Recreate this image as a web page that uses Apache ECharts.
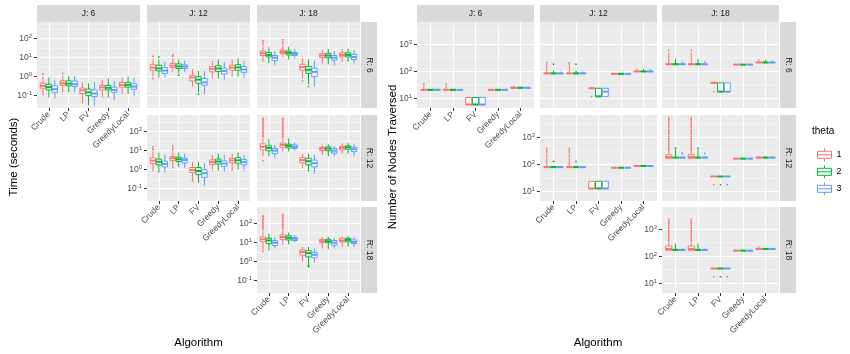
<!DOCTYPE html>
<html>
<head>
<meta charset="utf-8">
<script src="https://cdn.jsdelivr.net/npm/echarts@6/dist/echarts.min.js"></script>
<style>html,body{margin:0;padding:0;background:#fff}#chart{width:850px;height:354px}</style>
</head>
<body>
<div id="chart"></div>
<script>
const algorithms = ['Crude', 'LP', 'FV', 'Greedy', 'GreedyLocal'];
const thetas = ['1', '2', '3'];
const thetaColors = ['#F8766D', '#00BA38', '#619CFF'];
const levels = [6, 12, 18];
const timeTicks = [0.1, 1, 10, 100];
const nodeTicks = [10, 100, 1000];

// box stats [lo, q1, median, q3, hi] per algorithm, one block per theta
const timeR6J6 = [
  [[0.1, 0.25, 0.33, 0.45, 1.0], [0.15, 0.35, 0.45, 0.6, 1.2], [0.04, 0.13, 0.19, 0.25, 0.5], [0.08, 0.2, 0.27, 0.35, 0.7], [0.12, 0.28, 0.37, 0.5, 0.9]],
  [[0.08, 0.2, 0.28, 0.4, 0.9], [0.15, 0.33, 0.43, 0.6, 1.1], [0.03, 0.1, 0.15, 0.22, 0.45], [0.08, 0.2, 0.26, 0.35, 0.8], [0.12, 0.28, 0.37, 0.5, 1.0]],
  [[0.07, 0.15, 0.22, 0.33, 0.7], [0.15, 0.3, 0.4, 0.6, 1.1], [0.03, 0.09, 0.13, 0.2, 0.5], [0.06, 0.15, 0.2, 0.28, 0.6], [0.1, 0.22, 0.3, 0.42, 0.9]]
];
const timeR6J12 = [
  [[1.0, 2.2, 3, 4.3, 9], [1.8, 3, 3.8, 5, 9], [0.3, 0.6, 0.9, 1.2, 2.5], [0.8, 1.8, 2.6, 3.5, 7], [1.0, 2.2, 3.0, 4.0, 8]],
  [[0.9, 2, 2.7, 4, 8], [1.5, 2.7, 3.5, 4.7, 8], [0.15, 0.45, 0.7, 1.0, 2.0], [0.8, 1.9, 2.7, 3.8, 8], [1.0, 2.2, 3.1, 4.3, 9]],
  [[0.9, 1.5, 2.1, 3, 6], [1.8, 2.7, 3.4, 4.2, 7], [0.12, 0.35, 0.5, 0.8, 2.0], [0.7, 1.4, 2.0, 2.8, 6], [0.9, 1.7, 2.4, 3.4, 7]]
];
const timeR6J18 = [
  [[6, 13, 17, 22, 40], [10, 16, 20, 25, 45], [0.8, 2.2, 3.2, 4.5, 9], [5, 10, 13, 16, 25], [6, 11, 14, 18, 28]],
  [[5, 11, 14, 19, 35], [8, 14, 18, 22, 38], [0.4, 1.5, 2.3, 3.5, 8], [4.5, 10, 13, 17, 28], [6, 11, 14, 18, 30]],
  [[4, 7, 10, 13, 22], [9, 13, 16, 19, 28], [0.3, 1.0, 1.8, 2.8, 7], [4, 7.5, 10, 13, 22], [5, 8, 11, 15, 25]]
];
const timeR12J12 = [
  [[0.8, 2.1, 3, 4.2, 9], [1.5, 3, 4, 5, 9], [0.3, 0.7, 0.95, 1.3, 2.5], [0.9, 1.9, 2.5, 3.3, 6], [1.1, 2.3, 3.1, 4.0, 7]],
  [[0.7, 1.8, 2.6, 3.6, 8], [1.4, 2.7, 3.5, 4.5, 8], [0.2, 0.55, 0.85, 1.3, 2.5], [0.9, 2.0, 2.7, 3.6, 7], [1.0, 2.2, 3.1, 4.3, 8]],
  [[0.7, 1.4, 2.0, 2.8, 6], [1.2, 2.3, 3.2, 4, 7], [0.15, 0.4, 0.65, 1.0, 2.2], [0.8, 1.5, 2.1, 2.9, 6], [0.9, 1.8, 2.5, 3.4, 6]]
];
const timeR12J18 = [
  [[5, 11, 16, 23, 45], [9, 15, 20, 25, 40], [1.2, 2.3, 3.2, 4.3, 7], [6, 10, 13, 15, 20], [7, 11, 14, 17, 25]],
  [[5, 10, 14, 18, 40], [9, 14, 18, 22, 45], [0.8, 1.8, 2.8, 4.0, 7], [5, 10, 13, 16, 22], [7, 12, 15, 18, 25]],
  [[4, 7, 10, 13, 20], [10, 13, 16, 20, 28], [0.6, 1.4, 2.2, 3.2, 6], [5, 7.5, 10, 13, 18], [5, 9, 12, 15, 22]]
];
const timeR18J18 = [
  [[4, 11, 15, 20, 40], [8, 15, 20, 26, 45], [1.0, 2.2, 3.2, 4.2, 6], [5, 10, 12, 15, 20], [6, 11, 13, 17, 22]],
  [[4, 9, 13, 17, 30], [8, 14, 18, 23, 35], [0.7, 1.8, 2.8, 3.8, 6], [4.5, 10, 12, 15, 20], [6, 11, 14, 17, 22]],
  [[5, 7, 10, 13, 20], [10, 13, 16, 19, 25], [0.9, 1.6, 2.3, 3.1, 5], [5, 7.5, 10, 13, 18], [6, 9, 11, 14, 20]]
];

// outliers [algorithm index, theta, [values]]
const timeOutR6J6 = [[0, 1, [1.4]], [1, 1, [1.5]]];
const timeOutR6J12 = [[0, 1, [12, 0.8]], [0, 2, [11]], [1, 1, [12, 14]], [1, 2, [1.2]], [2, 2, [0.12]]];
const timeOutR6J18 = [[0, 1, [50, 65, 80]], [1, 1, [55, 70, 90]], [2, 2, [0.3]], [2, 1, [0.6]]];
const timeOutR12J12 = [[0, 1, [11, 13, 16]], [1, 1, [11, 14, 18, 1.3]], [2, 1, [0.25, 0.3]], [4, 1, [1.0]]];
const timeOutR12J18 = [
  [0, 1, [3, 55, 65, 75, 90, 105, 125, 150, 175, 210, 250, 300, 360, 430, 500]],
  [1, 1, [50, 60, 70, 85, 100, 120, 145, 170, 200, 240, 290, 350, 420, 500]]
];
const timeOutR18J18 = [
  [0, 1, [3.5, 50, 60, 72, 85, 100, 120, 140, 165, 195, 230, 260]],
  [1, 1, [55, 65, 78, 92, 110, 130, 155, 185, 220, 260, 300]],
  [2, 2, [0.55, 0.6, 0.65]]
];

const nodesR6J6 = [
  [[21, 21, 21, 21, 30], [21, 21, 21, 21, 30], [6, 6, 6, 11, 11], [21, 21, 21, 21, 21], [25, 25, 25, 25, 30]],
  [[21, 21, 21, 21, 21], [21, 21, 21, 21, 21], [6, 6, 6, 11, 11], [21, 21, 21, 21, 21], [25, 25, 25, 25, 27]],
  [[21, 21, 21, 21, 21], [21, 21, 21, 21, 21], [6, 6, 6, 11, 11], [21, 21, 21, 21, 21], [25, 25, 25, 25, 27]]
];
const nodesR6J12 = [
  [[85, 85, 85, 85, 190], [85, 85, 85, 85, 190], [24, 24, 24, 24, 24], [82, 82, 82, 82, 82], [100, 100, 100, 100, 130]],
  [[85, 85, 85, 85, 110], [85, 85, 85, 85, 110], [12, 12, 12, 24, 24], [82, 82, 82, 82, 82], [100, 100, 100, 100, 125]],
  [[85, 85, 85, 85, 100], [85, 85, 85, 85, 100], [12, 12, 18, 24, 24], [82, 82, 82, 82, 82], [100, 100, 100, 100, 125]]
];
const nodesR6J18 = [
  [[185, 185, 185, 185, 500], [185, 185, 185, 185, 500], [38, 38, 38, 38, 38], [180, 180, 180, 180, 180], [215, 215, 215, 215, 290]],
  [[185, 185, 185, 185, 290], [185, 185, 185, 185, 290], [18, 18, 18, 38, 38], [180, 180, 180, 180, 180], [215, 215, 215, 215, 270]],
  [[185, 185, 185, 185, 240], [185, 185, 185, 185, 240], [18, 18, 18, 38, 38], [180, 180, 180, 180, 180], [215, 215, 215, 215, 260]]
];
const nodesR12J12 = [
  [[80, 80, 80, 80, 250], [80, 80, 80, 80, 250], [13, 13, 13, 24, 24], [76, 76, 76, 76, 76], [88, 88, 88, 88, 100]],
  [[80, 80, 80, 80, 80], [80, 80, 80, 80, 80], [13, 13, 13, 24, 24], [76, 76, 76, 76, 76], [88, 88, 88, 88, 95]],
  [[80, 80, 80, 80, 80], [80, 80, 80, 80, 80], [13, 13, 13, 24, 24], [76, 76, 76, 76, 76], [88, 88, 88, 88, 95]]
];
const nodesR12J18 = [
  [[170, 170, 190, 230, 290], [170, 170, 190, 230, 290], [36, 36, 36, 36, 36], [165, 165, 165, 165, 165], [180, 180, 180, 180, 205]],
  [[180, 180, 180, 180, 360], [180, 180, 180, 180, 360], [36, 36, 36, 36, 36], [165, 165, 165, 165, 165], [180, 180, 180, 180, 200]],
  [[180, 180, 180, 180, 200], [180, 180, 180, 180, 200], [36, 36, 36, 36, 36], [165, 165, 165, 165, 165], [180, 180, 180, 180, 200]]
];
const nodesR18J18 = [
  [[170, 170, 190, 245, 330], [170, 170, 190, 245, 330], [36, 36, 36, 36, 36], [165, 165, 165, 165, 165], [190, 190, 190, 190, 230]],
  [[175, 175, 175, 175, 300], [175, 175, 175, 175, 300], [36, 36, 36, 36, 36], [165, 165, 165, 165, 165], [190, 190, 190, 190, 205]],
  [[175, 175, 175, 175, 200], [175, 175, 175, 175, 200], [36, 36, 36, 36, 36], [165, 165, 165, 165, 165], [190, 190, 190, 190, 200]]
];

const nodesOutR6J6 = [[0, 1, [34]], [1, 1, [34]]];
const nodesOutR6J12 = [[0, 1, [210]], [0, 2, [185]], [1, 1, [210]], [1, 2, [185]], [2, 1, [12]]];
const nodesOutR6J18 = [[0, 1, [620]], [1, 1, [620]], [2, 1, [18]]];
const nodesOutR12J12 = [[0, 1, [290, 340, 390]], [0, 2, [130]], [1, 1, [290, 340, 390]], [1, 2, [130]]];
const nodesOutR12J18 = [
  [0, 1, [320, 360, 410, 470, 540, 620, 720, 830, 950, 1100, 1300, 1500, 1750, 2000, 2400, 2800, 3300, 3900, 4600, 5400]],
  [1, 1, [320, 360, 410, 470, 540, 620, 720, 830, 950, 1100, 1300, 1500, 1750, 2000, 2400, 2800, 3300, 3900, 4600, 5400]],
  [0, 2, [400]], [1, 2, [400]], [0, 3, [260]], [1, 3, [260]],
  [2, 1, [18]], [2, 2, [18]], [2, 3, [18]]
];
const nodesOutR18J18 = [
  [0, 1, [370, 420, 480, 550, 630, 720, 830, 950, 1100, 1250, 1450, 1700, 2000, 2350]],
  [1, 1, [370, 420, 480, 550, 630, 720, 830, 950, 1100, 1250, 1450, 1700, 2000, 2350]],
  [2, 1, [18]], [2, 2, [18]], [2, 3, [18]]
];

const FONT = '"Liberation Sans", Arial, sans-serif';
const rowTop = [22, 115, 207];
const rowH = 86;

const sides = [
  {
    colX: [37, 147, 257], colW: 103, stripX: 361,
    range: [-1.65, 2.88], minor: [-1.5, -0.5, 0.5, 1.5, 2.5], ticks: timeTicks,
    yTitle: 'Time (seconds)', yTitleX: 14,
    panels: [
      {r: 0, j: 0, stats: timeR6J6, out: timeOutR6J6},
      {r: 0, j: 1, stats: timeR6J12, out: timeOutR6J12},
      {r: 0, j: 2, stats: timeR6J18, out: timeOutR6J18},
      {r: 1, j: 1, stats: timeR12J12, out: timeOutR12J12},
      {r: 1, j: 2, stats: timeR12J18, out: timeOutR12J18},
      {r: 2, j: 2, stats: timeR18J18, out: timeOutR18J18}
    ]
  },
  {
    colX: [417, 540, 662], colW: 117, stripX: 780,
    range: [0.65, 3.83], minor: [1.5, 2.5, 3.5], ticks: nodeTicks,
    yTitle: 'Number of Nodes Traversed', yTitleX: 393,
    panels: [
      {r: 0, j: 0, stats: nodesR6J6, out: nodesOutR6J6},
      {r: 0, j: 1, stats: nodesR6J12, out: nodesOutR6J12},
      {r: 0, j: 2, stats: nodesR6J18, out: nodesOutR6J18},
      {r: 1, j: 1, stats: nodesR12J12, out: nodesOutR12J12},
      {r: 1, j: 2, stats: nodesR12J18, out: nodesOutR12J18},
      {r: 2, j: 2, stats: nodesR18J18, out: nodesOutR18J18}
    ]
  }
];

function boxRender(color) {
  return function (params, api) {
    const x = api.value(0);
    const py = v => api.coord([x, v])[1];
    const lo = py(api.value(1)), q1 = py(api.value(2)), med = py(api.value(3)), q3 = py(api.value(4)), hi = py(api.value(5));
    const cx = api.coord([x, api.value(3)])[0];
    const x0 = api.coord([x - 0.135, api.value(3)])[0];
    const x1 = api.coord([x + 0.135, api.value(3)])[0];
    const line = (a, b, c, d, w) => ({type: 'line', shape: {x1: a, y1: b, x2: c, y2: d}, style: {stroke: color, lineWidth: w}});
    return {
      type: 'group',
      children: [
        line(cx, hi, cx, q3, 1),
        line(cx, q1, cx, lo, 1),
        {type: 'rect', shape: {x: x0, y: q3, width: x1 - x0, height: q1 - q3}, style: {fill: '#fff', stroke: color, lineWidth: 1}},
        line(x0, med, x1, med, 2)
      ]
    };
  };
}

function dotRender(color) {
  return function (params, api) {
    const c = api.coord([api.value(0), api.value(1)]);
    return {type: 'circle', shape: {cx: c[0], cy: c[1], r: 0.9}, style: {fill: color}};
  };
}

function minorRender(params, api) {
  const cs = params.coordSys;
  const y = api.coord([1, api.value(1)])[1];
  return {type: 'line', shape: {x1: cs.x, y1: y, x2: cs.x + cs.width, y2: y}, style: {stroke: '#fff', lineWidth: 0.5}};
}

function powLabel(v) {
  const e = Math.round(Math.log10(v));
  return '{b|10}{s|' + e + '}';
}

const grids = [], xAxes = [], yAxes = [], series = [], graphics = [];

sides.forEach(side => {
  side.panels.forEach(p => {
    const g = grids.length;
    const diag = p.r === p.j;
    grids.push({
      left: side.colX[p.j], top: rowTop[p.r], width: side.colW, height: rowH,
      show: true, backgroundColor: '#EBEBEB', borderWidth: 0, containLabel: false, outerBoundsMode: 'none'
    });
    xAxes.push({
      type: 'value', gridIndex: g, min: 0.4, max: 5.6,
      axisLine: {show: false},
      axisTick: {show: diag, length: 3, lineStyle: {color: '#333', width: 1}, customValues: [1, 2, 3, 4, 5]},
      axisLabel: {
        show: diag, customValues: [1, 2, 3, 4, 5], rotate: 45, margin: 5, hideOverlap: false,
        fontSize: 8.5, color: '#4D4D4D', fontFamily: FONT,
        formatter: v => algorithms[Math.round(v) - 1] || ''
      },
      splitLine: {show: true, lineStyle: {color: '#fff', width: 1}}
    });
    yAxes.push({
      type: 'log', logBase: 10, gridIndex: g,
      min: Math.pow(10, side.range[0]), max: Math.pow(10, side.range[1]),
      axisLine: {show: false},
      axisTick: {show: diag, length: 3, lineStyle: {color: '#333', width: 1}, customValues: side.ticks},
      axisLabel: {
        show: diag, customValues: side.ticks, margin: 5, formatter: powLabel,
        hideOverlap: false, showMinLabel: true, showMaxLabel: true,
        rich: {
          b: {fontSize: 8.5, color: '#4D4D4D', fontFamily: FONT, lineHeight: 11},
          s: {fontSize: 6, color: '#4D4D4D', fontFamily: FONT, lineHeight: 5, verticalAlign: 'top'}
        }
      },
      splitLine: {show: true, lineStyle: {color: '#fff', width: 1}}
    });
    series.push({
      type: 'custom', xAxisIndex: g, yAxisIndex: g, z: 1, silent: true,
      data: side.minor.map(e => [1, Math.pow(10, e)]), encode: {x: 0, y: 1},
      renderItem: minorRender
    });
    thetas.forEach((th, t) => {
      const dx = (t - 1) * 0.3;
      series.push({
        type: 'custom', name: th, xAxisIndex: g, yAxisIndex: g, z: 3,
        data: p.stats[t].map((s, a) => [a + 1 + dx].concat(s)),
        encode: {x: 0, y: [1, 2, 3, 4, 5]},
        renderItem: boxRender(thetaColors[t])
      });
      const pts = [];
      p.out.filter(o => o[1] === t + 1).forEach(o => o[2].forEach(v => pts.push([o[0] + 1 + dx, v])));
      series.push({
        type: 'custom', name: th, xAxisIndex: g, yAxisIndex: g, z: 4,
        data: pts, encode: {x: 0, y: 1},
        renderItem: dotRender(thetaColors[t])
      });
    });
  });

  levels.forEach((lv, j) => {
    graphics.push({type: 'rect', silent: true, shape: {x: side.colX[j], y: 5, width: side.colW, height: 17}, style: {fill: '#D9D9D9'}});
    graphics.push({type: 'text', silent: true, x: side.colX[j] + side.colW / 2, y: 13.5,
      style: {text: 'J: ' + lv, fontSize: 8.5, fontFamily: FONT, fill: '#1A1A1A', align: 'center', verticalAlign: 'middle'}});
  });
  levels.forEach((lv, r) => {
    graphics.push({type: 'rect', silent: true, shape: {x: side.stripX, y: rowTop[r], width: 16, height: rowH}, style: {fill: '#D9D9D9'}});
    graphics.push({type: 'text', silent: true, x: side.stripX + 8, y: rowTop[r] + rowH / 2, rotation: -Math.PI / 2,
      style: {text: 'R: ' + lv, fontSize: 8.5, fontFamily: FONT, fill: '#1A1A1A', align: 'center', verticalAlign: 'middle'}});
  });
  graphics.push({type: 'text', silent: true, x: side.yTitleX, y: 157, rotation: Math.PI / 2,
    style: {text: side.yTitle, fontSize: 11.5, fontFamily: FONT, fill: '#000', align: 'center', verticalAlign: 'middle'}});
  graphics.push({type: 'text', silent: true, x: side.colX[0] + (side.colX[2] + side.colW - side.colX[0]) / 2, y: 343,
    style: {text: 'Algorithm', fontSize: 11.5, fontFamily: FONT, fill: '#000', align: 'center', verticalAlign: 'middle'}});
});

graphics.push({type: 'text', silent: true, x: 812, y: 131.5,
  style: {text: 'theta', fontSize: 10, fontFamily: FONT, fill: '#000', align: 'left', verticalAlign: 'middle'}});

const chart = echarts.init(document.getElementById('chart'));
chart.setOption({
  animation: false,
  textStyle: {fontFamily: FONT},
  grid: grids,
  xAxis: xAxes,
  yAxis: yAxes,
  legend: {
    orient: 'vertical', left: 812, top: 142.8, itemWidth: 14, itemHeight: 13, itemGap: 3,
    selectedMode: false,
    textStyle: {fontSize: 9, color: '#000', fontFamily: FONT},
    data: thetas.map((t, i) => ({
      name: t,
      icon: 'path://M7,0L7,3M0,3L14,3L14,10L0,10ZM0,6.5L14,6.5M7,10L7,13',
      itemStyle: {color: '#fff', borderColor: thetaColors[i], borderWidth: 1}
    }))
  },
  graphic: graphics,
  series: series
});
</script>
</body>
</html>
